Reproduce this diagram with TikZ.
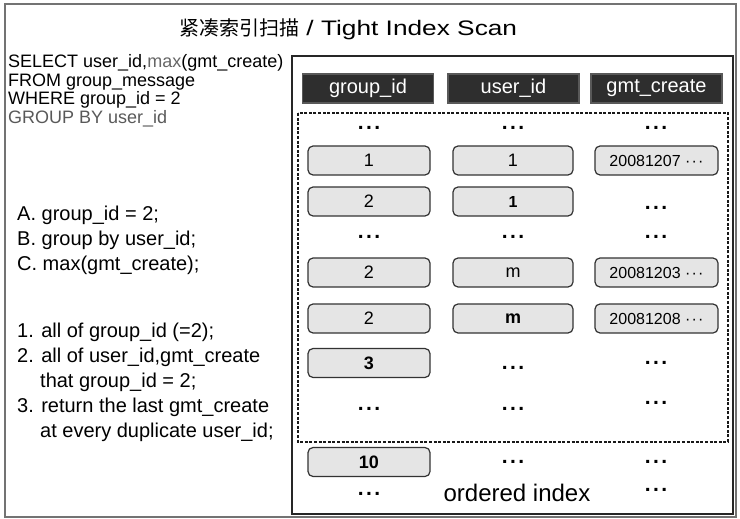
\documentclass[tikz,border=0pt]{standalone}
\usepackage{fontspec}
\setmainfont{Liberation Sans}
\newfontfamily\cjk{Noto Sans CJK SC}
\newfontfamily\widesans[FakeStretch=1.25]{Liberation Sans}
% bold dots used as filler in the index table
\newcommand\celldots{.\kern2.4pt.\kern2.4pt.}
% small trailing dots after a timestamp
\newcommand\tsdots{·\kern1.2pt·\kern1.2pt·}

\begin{document}
\begin{tikzpicture}[x=1pt,y=-1pt,
  cell/.style={draw=black!80, line width=1.2pt, fill=black!10, rounded corners=5pt,
    minimum width=122pt, minimum height=29pt, inner sep=0pt,
    font=\fontsize{18}{18}\selectfont},
  tcell/.style={cell, font=\fontsize{16}{16}\selectfont},
  hdr/.style={draw=black!65, line width=1.2pt, fill=black!82, text=white,
    minimum width=131pt, minimum height=29pt, inner sep=0pt,
    font=\fontsize{20}{20}\selectfont},
  dots/.style={inner sep=0pt, font=\fontsize{21}{21}\selectfont\bfseries},
  ltxt/.style={anchor=base west, inner sep=0pt, font=\fontsize{20}{20}\selectfont},
  sql/.style={anchor=base west, inner sep=0pt, font=\fontsize{18}{18}\selectfont}]

\useasboundingbox (0,0) rectangle (740,519);

% frames
\draw[black!55, line width=2pt] (5,4) rectangle (736,517);
\draw[black!85, line width=1.6pt] (292,56) rectangle (733,514);
\draw[black!90, line width=1.6pt, dash pattern=on 3pt off 1.6pt] (298,113) rectangle (728,442);

% title
\node[anchor=base west, inner sep=0pt] (title) at (179,36)
  {{\cjk\fontsize{20}{20}\selectfont 紧凑索引扫描}\widesans\fontsize{21}{21}\selectfont\ / Tight Index Scan};

% query
\node[sql] (q1) at (8,68)    {SELECT user\_id,{\color{black!60}max}(gmt\_create)};
\node[sql] (q2) at (8,86.5)  {FROM group\_message};
\node[sql] (q3) at (8,105)   {WHERE group\_id = 2};
\node[sql, text=black!65] (q4) at (8,123.5) {GROUP BY user\_id};

% conditions
\node[ltxt] (ca) at (17,220) {A. group\_id = 2;};
\node[ltxt] (cb) at (17,245) {B. group by user\_id;};
\node[ltxt] (cc) at (17,270) {C. max(gmt\_create);};

% scan steps
\node[ltxt] (s1)  at (17,337) {1. all of group\_id (=2);};
\node[ltxt] (s2)  at (17,362) {2. all of user\_id,gmt\_create};
\node[ltxt] (s2b) at (40,387) {that group\_id = 2;};
\node[ltxt] (s3)  at (17,412) {3. return the last gmt\_create};
\node[ltxt] (s3b) at (40,437) {at every duplicate user\_id;};

% column headers
\node[hdr] (hg) at (368,88.5)   {group\_id};
\node[hdr] (hu) at (513.5,88.5) {user\_id};
\node[hdr] (ht) at (656.5,88.5) {gmt\_create};

% row 0
\node[dots] (g0) at (369,128) {\celldots};
\node[dots] (u0) at (513,128) {\celldots};
\node[dots] (t0) at (656,128) {\celldots};
% row 1
\node[cell] (g1) at (369,160.5) {1};
\node[cell, minimum width=120pt] (u1) at (513,160.5) {1};
\node[tcell, minimum width=123pt] (t1) at (656.5,160.5) {20081207 \tsdots};
% row 2
\node[cell] (g2) at (369,201.5) {2};
\node[cell, minimum width=120pt, font=\fontsize{16}{16}\selectfont\bfseries] (u2) at (513,201.5) {1};
\node[dots] (t2) at (656,208) {\celldots};
% row 3
\node[dots] (g3) at (369,237) {\celldots};
\node[dots] (u3) at (513,237) {\celldots};
\node[dots] (t3) at (656,237) {\celldots};
% row 4
\node[cell] (g4) at (369,272.5) {2};
\node[cell, minimum width=120pt] (u4) at (513,272.5) {m};
\node[tcell, minimum width=123pt] (t4) at (656.5,272.5) {20081203 \tsdots};
% row 5
\node[cell] (g5) at (369,318.5) {2};
\node[cell, minimum width=120pt, font=\fontsize{18}{18}\selectfont\bfseries] (u5) at (513,318.5) {m};
\node[tcell, minimum width=123pt] (t5) at (656.5,318.5) {20081208 \tsdots};
% row 6
\node[cell, font=\fontsize{18}{18}\selectfont\bfseries] (g6) at (369,363) {3};
\node[dots] (u6) at (513,368) {\celldots};
\node[dots] (t6) at (656,363) {\celldots};
% row 7
\node[dots] (g7) at (369,409) {\celldots};
\node[dots] (u7) at (513,409) {\celldots};
\node[dots] (t7) at (656,403) {\celldots};
% row 8
\node[cell, font=\fontsize{18}{18}\selectfont\bfseries] (g8) at (369,462) {10};
\node[dots] (u8) at (513,462) {\celldots};
\node[dots] (t8) at (656,462) {\celldots};
% row 9
\node[dots] (g9) at (369,494) {\celldots};
\node[inner sep=0pt, font=\fontsize{24}{24}\selectfont] (idx) at (517,493) {ordered index};
\node[dots] (t9) at (656,490) {\celldots};

\end{tikzpicture}
\end{document}
